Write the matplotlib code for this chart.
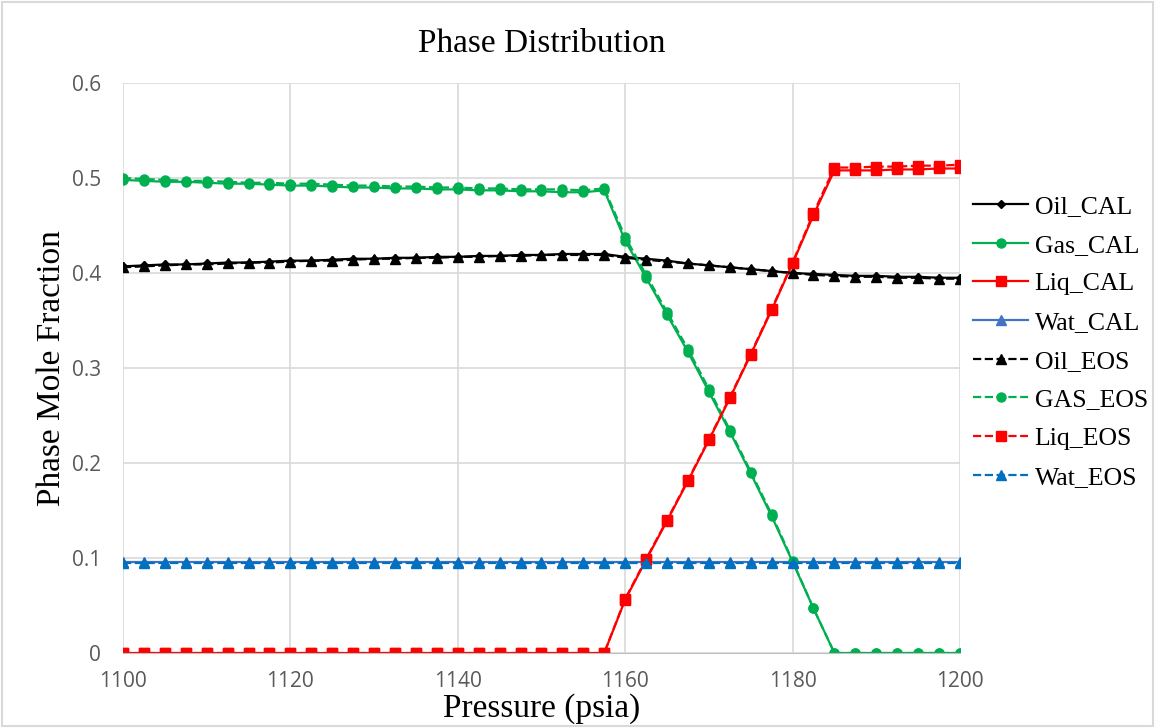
import matplotlib
matplotlib.use('Agg')
import matplotlib.pyplot as plt
from matplotlib.patches import Rectangle

# data
pressure = [1100, 1102.5, 1105, 1107.5, 1110, 1112.5, 1115, 1117.5, 1120, 1122.5,
            1125, 1127.5, 1130, 1132.5, 1135, 1137.5, 1140, 1142.5, 1145, 1147.5,
            1150, 1152.5, 1155, 1157.5, 1160, 1162.5, 1165, 1167.5, 1170, 1172.5,
            1175, 1177.5, 1180, 1182.5, 1185, 1187.5, 1190, 1192.5, 1195, 1197.5, 1200]

oil_cal = [0.407, 0.408, 0.409, 0.409, 0.410, 0.411, 0.411, 0.412, 0.413, 0.413,
           0.414, 0.415, 0.415, 0.416, 0.416, 0.417, 0.417, 0.418, 0.418, 0.419,
           0.419, 0.420, 0.420, 0.420, 0.417, 0.415, 0.413, 0.410, 0.408, 0.406,
           0.404, 0.402, 0.400, 0.399, 0.398, 0.397, 0.397, 0.396, 0.396, 0.395, 0.395]
gas_cal = [0.498, 0.497, 0.496, 0.496, 0.495, 0.494, 0.494, 0.493, 0.492, 0.492,
           0.491, 0.490, 0.490, 0.489, 0.489, 0.488, 0.488, 0.487, 0.487, 0.486,
           0.486, 0.485, 0.485, 0.487, 0.434, 0.395, 0.356, 0.317, 0.275, 0.233,
           0.189, 0.144, 0.096, 0.047, 0.0, 0.0, 0.0, 0.0, 0.0, 0.0, 0.0]
liq_cal = [0.0, 0.0, 0.0, 0.0, 0.0, 0.0, 0.0, 0.0, 0.0, 0.0,
           0.0, 0.0, 0.0, 0.0, 0.0, 0.0, 0.0, 0.0, 0.0, 0.0,
           0.0, 0.0, 0.0, 0.0, 0.056, 0.098, 0.139, 0.181, 0.224, 0.268,
           0.314, 0.361, 0.410, 0.461, 0.508, 0.508, 0.508, 0.509, 0.509, 0.510, 0.510]
wat_cal = [0.096] * 41

oil_eos = [0.406, 0.407, 0.408, 0.409, 0.409, 0.410, 0.411, 0.411, 0.412, 0.413,
           0.413, 0.414, 0.415, 0.415, 0.416, 0.416, 0.417, 0.417, 0.418, 0.418,
           0.419, 0.419, 0.419, 0.419, 0.416, 0.414, 0.412, 0.410, 0.408, 0.406,
           0.404, 0.402, 0.400, 0.398, 0.397, 0.396, 0.396, 0.395, 0.395, 0.394, 0.394]
gas_eos = [0.500, 0.499, 0.498, 0.497, 0.497, 0.496, 0.495, 0.495, 0.494, 0.494,
           0.493, 0.492, 0.492, 0.491, 0.491, 0.490, 0.490, 0.489, 0.489, 0.488,
           0.488, 0.488, 0.487, 0.489, 0.438, 0.398, 0.359, 0.320, 0.278, 0.235,
           0.191, 0.146, 0.097, 0.047, 0.0, 0.0, 0.0, 0.0, 0.0, 0.0, 0.0]
liq_eos = [0.0, 0.0, 0.0, 0.0, 0.0, 0.0, 0.0, 0.0, 0.0, 0.0,
           0.0, 0.0, 0.0, 0.0, 0.0, 0.0, 0.0, 0.0, 0.0, 0.0,
           0.0, 0.0, 0.0, 0.0, 0.057, 0.099, 0.140, 0.182, 0.225, 0.269,
           0.315, 0.362, 0.411, 0.463, 0.511, 0.511, 0.512, 0.512, 0.513, 0.513, 0.514]
wat_eos = [0.095] * 41

x_ticks = [1100, 1120, 1140, 1160, 1180, 1200]
y_ticks = [0, 0.1, 0.2, 0.3, 0.4, 0.5, 0.6]
y_labels = ['0', '0.1', '0.2', '0.3', '0.4', '0.5', '0.6']

fig = plt.figure(figsize=(11.56, 7.28), dpi=100)
ax = fig.add_axes([0.1064, 0.1030, 0.7240, 0.7830])

serif = ['Liberation Serif', 'DejaVu Serif']

ax.plot(pressure, oil_cal, '-', color='black', lw=1.6, marker='D', ms=4, label='Oil_CAL')
ax.plot(pressure, gas_cal, '-', color='#00B050', lw=1.6, marker='o', ms=6.5, label='Gas_CAL')
ax.plot(pressure, liq_cal, '-', color='#FF0000', lw=1.6, marker='s', ms=6.5, label='Liq_CAL')
ax.plot(pressure, wat_cal, '-', color='#4472C4', lw=1.6, marker='^', ms=6.5, label='Wat_CAL')
ax.plot(pressure, oil_eos, '--', color='black', lw=1.6, marker='^', ms=6.5, label='Oil_EOS')
ax.plot(pressure, gas_eos, '--', color='#00B050', lw=1.6, marker='o', ms=6.5, label='GAS_EOS')
ax.plot(pressure, liq_eos, '--', color='#FF0000', lw=1.6, marker='s', ms=6.5, label='Liq_EOS')
ax.plot(pressure, wat_eos, '--', color='#0070C0', lw=1.6, marker='^', ms=6.5, label='Wat_EOS')

ax.set_xlim(1100, 1200)
ax.set_ylim(0, 0.6)
ax.set_xticks(x_ticks)
ax.set_yticks(y_ticks)
ax.set_yticklabels(y_labels)
ax.grid(True, color='#D9D9D9', lw=1.2)
ax.set_axisbelow(True)
for s in ['top', 'right', 'left']:
    ax.spines[s].set_visible(False)
ax.spines['bottom'].set_color('#BFBFBF')
ax.tick_params(length=0, labelsize=15, colors='#595959')
ax.tick_params(axis='x', pad=13)
ax.tick_params(axis='y', pad=16)
for lbl in ax.get_xticklabels() + ax.get_yticklabels():
    lbl.set_fontfamily(['Open Sans', 'DejaVu Sans'])

ax.set_title('Phase Distribution', fontsize=24, family=serif, pad=22)
ax.set_xlabel('Pressure (psia)', fontsize=24, family=serif)
ax.xaxis.set_label_coords(0.5, -0.07)
ax.set_ylabel('Phase Mole Fraction', fontsize=24, family=serif, labelpad=3)

leg = ax.legend(loc='center left', bbox_to_anchor=(0.988, 0.546), frameon=False,
                prop={'family': serif, 'size': 18.5}, handlelength=2.15,
                labelspacing=0.61, handletextpad=0.25)

fig.patches.append(Rectangle((0.002, 0.003), 0.995, 0.994, transform=fig.transFigure,
                             fill=False, edgecolor='#D9D9D9', lw=1.5))

fig.savefig('out.png', dpi=100)
